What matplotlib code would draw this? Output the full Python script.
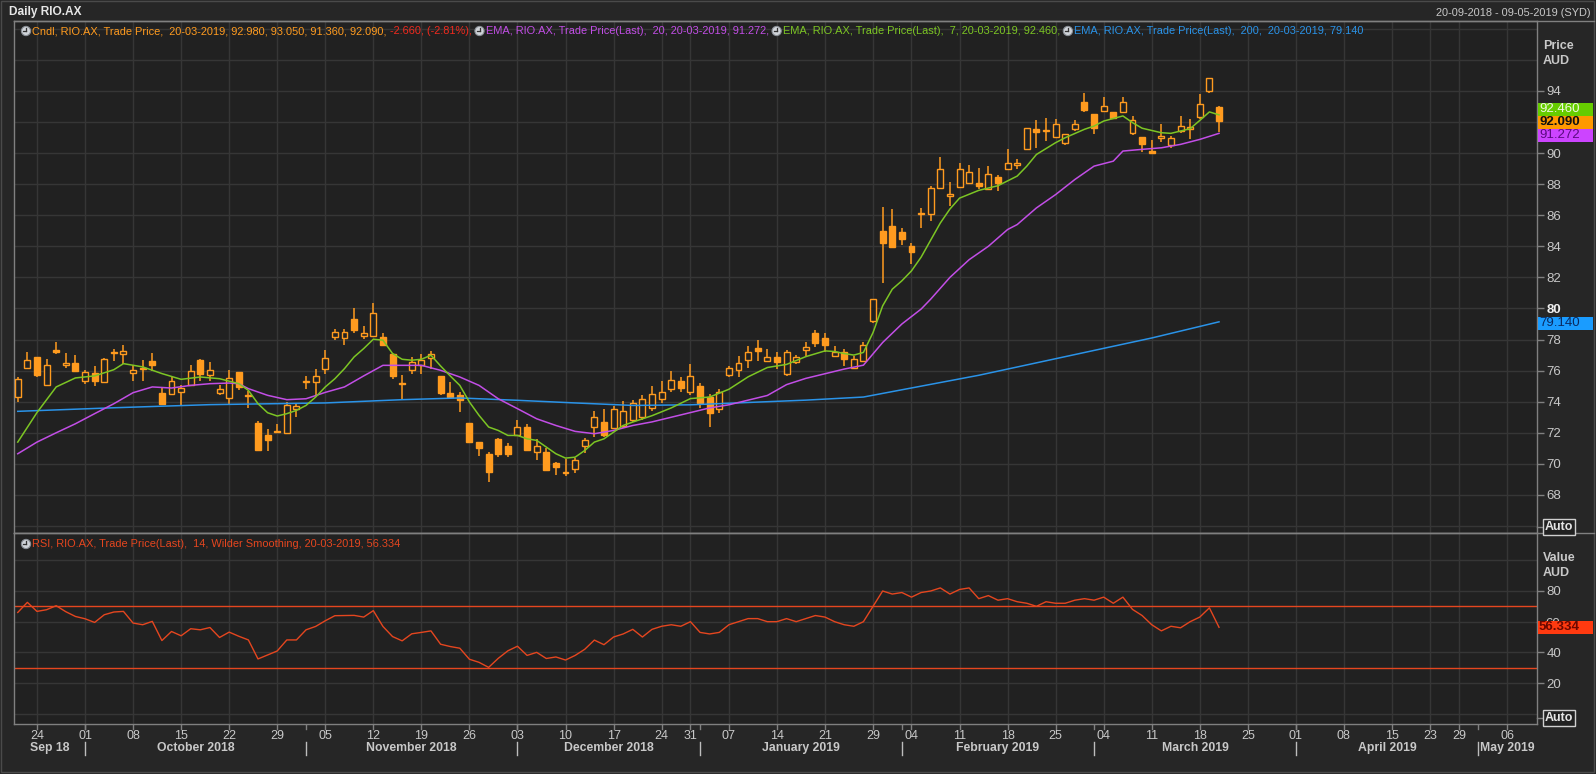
import numpy as np
import pandas as pd
import matplotlib
matplotlib.use("Agg")
import matplotlib.pyplot as plt
from matplotlib.patches import Rectangle, Circle

W, H = 1596, 774
FONT = ["Liberation Sans", "DejaVu Sans"]
plt.rcParams["font.family"] = FONT

FIG_BG = "#262626"
PANE_BG = "#212121"
GRID = "#363636"
SPINE = "#808080"
TXT = "#c8c8c8"
ORANGE = "#ff9b1f"
GREEN = "#7cc524"
PURPLE = "#c24ee6"
BLUE = "#2a93e8"
RSI_RED = "#e5461f"

# ---- data ----
opens = [
    74.30, 76.19, 76.88, 75.05, 77.30, 76.35, 76.52, 75.31, 75.83, 75.27,
    77.15, 77.05, 75.87, 76.10, 76.60, 74.56, 74.49, 74.62, 75.05, 76.67,
    75.74, 74.56, 74.24, 75.91, 74.40, 72.65, 71.87, 72.05, 72.00, 73.50,
    75.25, 75.27, 76.09, 78.17, 78.11, 79.29, 78.24, 78.22, 78.17, 77.10,
    75.20, 76.02, 76.34, 76.82, 75.66, 74.58, 74.41, 72.65, 71.40, 70.65,
    71.57, 71.18, 71.83, 72.37, 70.75, 70.75, 70.06, 69.50, 69.68, 71.14,
    72.37, 72.69, 72.30, 72.43, 72.80, 73.00, 73.60, 74.20, 74.80, 75.30,
    74.60, 75.00, 74.30, 73.50, 75.71, 76.05, 76.70, 77.45, 76.63, 76.89,
    75.77, 76.57, 77.34, 78.45, 78.13, 76.95, 77.17, 76.20, 76.63, 79.21,
    84.96, 85.28, 84.89, 84.03, 86.10, 86.11, 87.76, 87.23, 87.83, 88.09,
    88.09, 87.72, 88.47, 88.99, 89.25, 90.24, 91.53, 91.40, 91.05, 90.67,
    91.57, 93.31, 92.49, 92.71, 92.67, 92.65, 91.27, 91.03, 90.13, 90.99,
    90.52, 91.42, 91.53, 92.32, 94.00, 92.98]
closes = [
    75.44, 76.71, 75.74, 76.34, 77.20, 76.52, 75.96, 75.91, 75.31, 76.77,
    77.22, 77.29, 76.06, 76.15, 76.39, 73.87, 75.33, 74.88, 75.96, 75.76,
    76.04, 74.80, 75.53, 74.95, 74.35, 70.86, 71.51, 72.02, 73.81, 73.72,
    75.30, 75.66, 76.84, 78.49, 78.49, 78.60, 78.45, 79.74, 77.68, 75.66,
    75.16, 76.56, 76.71, 77.10, 74.58, 74.30, 74.13, 71.40, 71.01, 69.46,
    70.65, 70.65, 72.37, 70.86, 71.18, 69.63, 69.78, 69.40, 70.28, 71.51,
    73.01, 71.83, 73.55, 73.38, 73.91, 74.20, 74.50, 74.60, 75.40, 74.90,
    75.67, 73.90, 73.30, 74.60, 76.14, 76.52, 77.17, 77.27, 76.85, 76.57,
    77.17, 76.85, 77.55, 77.77, 77.64, 77.21, 76.74, 76.78, 77.64, 80.60,
    84.21, 83.97, 84.46, 83.65, 86.15, 87.76, 88.99, 87.38, 88.99, 88.80,
    87.87, 88.67, 88.09, 89.38, 89.38, 91.63, 91.35, 91.42, 91.85, 91.25,
    91.85, 92.77, 91.59, 93.03, 92.28, 93.31, 92.13, 90.56, 90.02, 91.10,
    90.95, 91.74, 91.70, 93.18, 94.80, 92.09]
highs = [
    75.59, 77.20, 76.88, 76.77, 77.85, 77.16, 77.03, 76.02, 76.30, 76.84,
    77.42, 77.68, 76.34, 76.67, 77.16, 74.90, 75.59, 75.05, 76.34, 76.73,
    76.56, 75.05, 76.02, 75.91, 74.67, 72.73, 72.22, 72.58, 73.98, 73.87,
    75.66, 76.09, 77.35, 78.65, 78.67, 80.00, 78.88, 80.32, 78.45, 77.10,
    75.70, 76.88, 77.10, 77.25, 75.66, 75.27, 74.62, 72.65, 71.40, 70.75,
    71.66, 71.35, 72.80, 72.58, 71.61, 71.01, 70.15, 70.32, 70.37, 71.66,
    73.38, 73.51, 73.72, 74.02, 74.09, 74.40, 75.00, 75.30, 76.00, 75.60,
    76.42, 75.20, 74.50, 74.80, 76.31, 76.95, 77.60, 77.98, 77.38, 77.17,
    77.34, 77.00, 77.81, 78.63, 78.41, 77.60, 77.38, 76.91, 77.81, 80.60,
    86.50, 86.39, 85.15, 84.21, 86.44, 87.91, 89.76, 88.13, 89.33, 89.23,
    89.05, 89.16, 88.56, 90.24, 89.63, 91.63, 92.13, 92.28, 92.22, 91.25,
    92.13, 93.89, 92.49, 93.63, 92.67, 93.63, 92.39, 91.03, 90.82, 91.89,
    91.10, 92.39, 92.17, 93.78, 94.80, 93.05]
lows = [
    73.98, 76.13, 75.59, 75.05, 77.10, 76.17, 75.96, 75.16, 75.01, 75.27,
    76.60, 76.45, 75.31, 75.31, 75.96, 73.81, 74.49, 73.72, 75.01, 75.31,
    75.31, 74.41, 73.87, 74.73, 73.59, 70.82, 70.80, 72.00, 72.00, 73.00,
    74.84, 74.30, 75.81, 77.96, 77.63, 78.45, 78.02, 78.22, 77.63, 75.44,
    74.19, 75.81, 75.81, 76.13, 74.41, 74.19, 73.33, 71.40, 70.49, 68.82,
    70.43, 70.47, 71.83, 70.86, 70.28, 69.51, 69.29, 69.20, 69.42, 70.71,
    71.72, 71.72, 72.30, 72.30, 72.69, 72.80, 73.40, 73.90, 74.60, 74.60,
    74.40, 73.60, 72.40, 73.30, 75.56, 75.56, 76.20, 76.63, 76.63, 76.09,
    75.67, 76.42, 76.95, 77.49, 77.17, 76.91, 76.31, 76.09, 76.63, 79.06,
    81.63, 83.97, 84.08, 82.85, 85.15, 85.61, 87.66, 86.58, 87.83, 88.04,
    87.66, 87.70, 87.55, 88.95, 88.95, 90.19, 90.30, 90.77, 91.05, 90.52,
    91.42, 92.65, 91.20, 92.65, 92.28, 92.65, 91.14, 90.06, 89.91, 90.73,
    90.34, 91.31, 90.88, 92.17, 93.89, 91.36]

# EMA lines, read at sample days (day index, value)
ema7_day = [0, 2, 4, 6, 8, 10, 11, 13, 15, 17, 19, 21, 23, 24, 25, 26, 27, 28, 29, 30,
            31, 32, 33, 34, 35, 36, 37, 38, 39, 40, 41, 42, 43, 44, 45, 46, 47, 48, 49, 50,
            51, 52, 53, 54, 55, 56, 57, 58, 59, 60, 61, 62, 63, 64, 66, 68, 70, 72, 74, 76,
            78, 80, 82, 84, 85, 86, 87, 88, 89, 90, 91, 92, 93, 94, 96, 97, 98, 100, 102, 104,
            105, 106, 108, 109, 111, 112, 113, 115, 116, 117, 119, 120, 121, 122, 123, 124, 125]
ema7_val = [71.4, 73.3, 74.95, 75.53, 75.66, 76.06, 76.45, 76.24, 75.81, 75.44, 75.59, 75.48,
            75.16, 74.73, 73.87, 73.29, 73.08, 73.23, 73.44, 73.76, 74.30, 74.95, 75.48, 76.13,
            76.88, 77.42, 78.02, 77.96, 77.10, 76.73, 76.67, 76.73, 76.99, 76.30, 75.66, 75.05,
            73.98, 73.12, 72.37, 72.15, 71.83, 71.83, 71.61, 71.51, 71.08, 70.65, 70.37, 70.43,
            70.86, 71.40, 71.61, 72.04, 72.47, 72.69, 73.1, 73.6, 74.2, 74.3, 74.8, 75.6, 76.2,
            76.4, 76.9, 77.27, 77.23, 77.10, 77.0, 77.17, 78.45, 80.17, 81.24, 81.78, 82.42,
            83.3, 85.5, 86.4, 87.1, 87.6, 87.9, 88.52, 89.16, 89.91, 90.67, 90.99, 91.53, 91.74,
            92.06, 92.39, 91.96, 91.6, 91.31, 91.27, 91.42, 91.57, 92.1, 92.65, 92.46]
ema20_day = [0, 2, 4, 6, 8, 10, 12, 14, 16, 18, 20, 22, 23, 24, 26, 28, 30, 32, 34, 36, 38,
             40, 42, 44, 46, 48, 50, 52, 54, 56, 58, 60, 62, 64, 66, 68, 70, 72, 74, 76, 78,
             80, 82, 84, 86, 88, 90, 92, 94, 95, 97, 99, 101, 103, 104, 106, 108, 110, 111,
             112, 114, 115, 117, 119, 121, 123, 125]
ema20_val = [70.65, 71.4, 72.0, 72.58, 73.23, 73.87, 74.58, 74.95, 74.88, 75.05, 75.16, 75.20,
             75.16, 74.84, 74.41, 74.13, 74.19, 74.6, 74.95, 75.66, 76.34, 76.34, 76.34, 76.02,
             75.59, 75.05, 74.19, 73.55, 72.90, 72.47, 72.09, 71.94, 72.15, 72.47, 72.7, 73.0,
             73.3, 73.6, 73.8, 74.1, 74.4, 75.1, 75.5, 75.8, 76.1, 76.35, 77.81, 79.0, 79.96,
             80.6, 82.0, 83.14, 84.0, 85.08, 85.4, 86.47, 87.33, 88.30, 88.73, 89.16, 89.48,
             90.13, 90.24, 90.34, 90.56, 90.88, 91.27]
ema200_day = [0, 10, 20, 32, 40, 46, 52, 58, 64, 70, 76, 82, 88, 94, 100, 106, 112, 118, 125]
ema200_val = [73.38, 73.61, 73.81, 73.92, 74.13, 74.24, 74.09, 73.92, 73.76, 73.80, 73.95,
              74.10, 74.30, 75.0, 75.7, 76.5, 77.3, 78.1, 79.14]

rsi = [66.0, 72.6, 66.7, 67.8, 70.4, 66.5, 63.4, 61.9, 59.5, 64.5,
       66.3, 66.7, 59.1, 58.0, 60.2, 47.7, 53.6, 50.8, 55.4, 54.7,
       56.2, 49.7, 53.2, 50.5, 48.1, 35.7, 38.3, 40.9, 48.1, 48.1,
       54.7, 56.9, 60.6, 63.9, 64.0, 64.1, 63.0, 67.2, 56.9, 50.3,
       47.5, 52.1, 53.0, 54.0, 45.3, 43.8, 42.7, 35.5, 33.5, 30.2,
       36.1, 41.0, 44.0, 38.0, 40.0, 36.0, 37.0, 35.0, 38.0, 42.0,
       48.0, 45.0, 50.0, 52.0, 55.0, 50.0, 55.0, 57.0, 58.0, 57.0,
       60.0, 53.0, 52.0, 53.0, 58.0, 60.0, 62.0, 62.0, 60.0, 60.0,
       62.0, 60.0, 62.0, 64.0, 63.0, 60.0, 58.0, 57.0, 60.0, 70.0,
       80.0, 78.0, 79.0, 76.0, 79.0, 80.0, 82.0, 78.0, 81.0, 82.0,
       75.0, 77.0, 74.0, 75.0, 73.0, 72.0, 70.0, 73.0, 72.0, 72.0,
       74.0, 75.0, 74.0, 76.0, 72.0, 76.0, 68.0, 64.0, 58.0, 54.0,
       57.0, 56.0, 60.0, 63.0, 69.0, 56.334]

# calendar: ASX trading days shown on the axis
holidays = ["2018-12-25", "2018-12-26", "2019-01-01", "2019-01-28",
            "2019-04-19", "2019-04-22", "2019-04-25"]
days = pd.bdate_range("2018-09-20", "2019-05-09", freq="C", holidays=holidays)
tick_dates = ["2018-09-24", "2018-10-01", "2018-10-08", "2018-10-15", "2018-10-22",
              "2018-10-29", "2018-11-05", "2018-11-12", "2018-11-19", "2018-11-26",
              "2018-12-03", "2018-12-10", "2018-12-17", "2018-12-24", "2018-12-31",
              "2019-01-07", "2019-01-14", "2019-01-21", "2019-01-29", "2019-02-04",
              "2019-02-11", "2019-02-18", "2019-02-25", "2019-03-04", "2019-03-11",
              "2019-03-18", "2019-03-25", "2019-04-01", "2019-04-08", "2019-04-15",
              "2019-04-23", "2019-04-29", "2019-05-06"]
month_names = ["Sep 18", "October 2018", "November 2018", "December 2018", "January 2019",
               "February 2019", "March 2019", "April 2019", "May 2019"]

pos = {d: i for i, d in enumerate(days)}
tick_idx = [pos[pd.Timestamp(d)] for d in tick_dates]
month_start = [i for i in range(1, len(days)) if days[i].month != days[i - 1].month]

XMIN, XMAX = -0.39, 158.09

fig = plt.figure(figsize=(W / 100, H / 100), dpi=100, facecolor=FIG_BG)


def px_rect(x0, y0, x1, y1):
    return [x0 / W, 1 - y1 / H, (x1 - x0) / W, (y1 - y0) / H]


ax = fig.add_axes(px_rect(14, 21, 1537, 533), facecolor=PANE_BG)
ax2 = fig.add_axes(px_rect(14, 533, 1537, 724), facecolor=PANE_BG)

for a in (ax, ax2):
    a.set_xlim(XMIN, XMAX)
    for s in a.spines.values():
        s.set_color(SPINE)
        s.set_linewidth(1)
    for t in tick_idx:
        a.axvline(t, color=GRID, lw=1, zorder=0)
    a.set_xticks([])
    a.yaxis.tick_right()
    a.tick_params(axis="y", colors=SPINE, labelcolor=TXT, length=5, width=1,
                  labelsize=9.5, pad=2)

# price pane (92 sits under the value tags)
ax.set_ylim(65.55, 98.5)
for g in range(66, 99, 2):
    ax.axhline(g, color=GRID, lw=1, zorder=0)
price_ticks = [t for t in range(68, 95, 2) if t != 92]
ax.set_yticks(price_ticks)
for lab in ax.get_yticklabels():
    if lab.get_text() == "80":
        lab.set_fontweight("bold")
        lab.set_color("#f0f0f0")

o = np.array(opens)
c = np.array(closes)
hi = np.array(highs)
lo = np.array(lows)
x = np.arange(len(o))
up = c >= o
ax.vlines(x, lo, hi, color=ORANGE, lw=1.1, zorder=3)
body_lo = np.minimum(o, c)
body_h = np.maximum(np.abs(c - o), 0.07)
ax.bar(x[up], body_h[up], bottom=body_lo[up], width=0.62, facecolor=PANE_BG,
       edgecolor=ORANGE, lw=1.0, zorder=4)
ax.bar(x[~up], body_h[~up], bottom=body_lo[~up], width=0.62, facecolor=ORANGE,
       edgecolor=ORANGE, lw=1.0, zorder=4)

ax.plot(ema200_day, ema200_val, color=BLUE, lw=1.1, zorder=5)
ax.plot(ema20_day, ema20_val, color=PURPLE, lw=1.1, zorder=5)
ax.plot(ema7_day, ema7_val, color=GREEN, lw=1.1, zorder=5)

# RSI pane
ax2.set_ylim(-6.7, 117.8)
for g in range(0, 101, 20):
    ax2.axhline(g, color=GRID, lw=1, zorder=0)
ax2.set_yticks([20, 40, 80])
ax2.axhline(70, color=RSI_RED, lw=1, zorder=2)
ax2.axhline(30, color=RSI_RED, lw=1, zorder=2)
ax2.plot(np.arange(len(rsi)), rsi, color=RSI_RED, lw=1, zorder=3)

# overlay in pixel coordinates for text and tags
ov = fig.add_axes([0, 0, 1, 1], zorder=10)
ov.set_xlim(0, W)
ov.set_ylim(H, 0)
ov.axis("off")
ov.patch.set_alpha(0)


def xpix(i):
    return 14 + (i - XMIN) / (XMAX - XMIN) * (1537 - 14)


ov.add_patch(Rectangle((1, 1), W - 3, H - 3, fill=False, ec="#4a4a4a", lw=1))
ov.plot([14, W - 2], [21, 21], color=SPINE, lw=1)
ov.plot([14, W - 2], [533, 533], color=SPINE, lw=1)

ov.text(9, 12, "Daily RIO.AX", color="#e6e6e6", fontsize=8.6, fontweight="bold",
        va="center", ha="left")
ov.text(1591, 13, "20-09-2018 - 09-05-2019 (SYD)", color=TXT, fontsize=7.9,
        va="center", ha="right")


def icon(cx, cy):
    ov.add_patch(Circle((cx, cy), 4.6, fc="#cfd3d8", ec="#8a8f96", lw=0.8))
    ov.plot([cx, cx], [cy, cy - 3.2], color="#333333", lw=0.9)
    ov.plot([cx, cx - 2.6], [cy, cy], color="#333333", lw=0.9)


renderer = fig.canvas.get_renderer()
LEG_FS = 7.95


def legend_line(y, parts):
    xc = 21
    for has_icon, s, col in parts:
        if has_icon:
            icon(xc + 5, y)
            xc += 11
        t = ov.text(xc, y, s, color=col, fontsize=LEG_FS, va="center", ha="left")
        xc = t.get_window_extent(renderer).x1


legend_line(31, [
    (True, "Cndl, RIO.AX, Trade Price,  20-03-2019, 92.980, 93.050, 91.360, 92.090, ", ORANGE),
    (False, "-2.660, (-2.81%), ", "#f02a1e"),
    (True, "EMA, RIO.AX, Trade Price(Last),  20, 20-03-2019, 91.272, ", PURPLE),
    (True, "EMA, RIO.AX, Trade Price(Last),  7, 20-03-2019, 92.460, ", GREEN),
    (True, "EMA, RIO.AX, Trade Price(Last),  200,  20-03-2019, 79.140", BLUE),
])
legend_line(544, [
    (True, "RSI, RIO.AX, Trade Price(Last),  14, Wilder Smoothing, 20-03-2019, 56.334", RSI_RED),
])

# right axis headers
for y0, words in ((46, ("Price", "AUD")), (558, ("Value", "AUD"))):
    ov.text(1543, y0, words[0], color=TXT, fontsize=9, fontweight="bold", va="center")
    ov.text(1543, y0 + 15, words[1], color=TXT, fontsize=9, fontweight="bold", va="center")

# "60" of the RSI axis, mostly hidden behind its value tag
ov.plot([1537, 1542], [622, 622], color=SPINE, lw=1)
ov.text(1545, 624, "60", color=TXT, fontsize=9.5, va="center", ha="left", zorder=2)

# value tags
tags = [
    (109, "92.460", "#66cc00", "#eef8e0", "normal"),
    (122, "92.090", "#ff9900", "#111111", "bold"),
    (135, "91.272", "#cc44ff", "#5a0a80", "normal"),
    (323, "79.140", "#1a9cff", "#0a2a60", "normal"),
    (627, "56.334", "#ff3a10", "#6a0800", "bold"),
]
for yc, s, bg, fg, wt in tags:
    ov.add_patch(Rectangle((1538, yc - 6.5), 55, 13, fc=bg, ec="none", zorder=3))
    ov.text(1539, yc, s, color=fg, fontsize=9.5, fontweight=wt, va="center", ha="left",
            zorder=4)

# Auto boxes
for yc in (527, 718):
    ov.plot([1537, 1542], [yc, yc], color=SPINE, lw=1)
    ov.text(1559, yc, "Auto", color="#e6e6e6", fontsize=9, fontweight="bold",
            va="center", ha="center",
            bbox=dict(boxstyle="square,pad=0.15", fc=PANE_BG, ec="#d0d0d0", lw=1))

# bottom date axis
for i, d in zip(tick_idx, tick_dates):
    xp = xpix(i)
    ov.plot([xp, xp], [725, 729], color=SPINE, lw=1)
    ov.text(xp, 736, d[-2:], color=TXT, fontsize=9, va="center", ha="center")
for i in month_start:
    xp = xpix(i)
    ov.plot([xp, xp], [725, 729], color=SPINE, lw=1)
    ov.plot([xp, xp], [742, 755], color="#bdbdbd", lw=1)
bounds = [XMIN] + month_start + [XMAX]
for k, name in enumerate(month_names):
    xc = (xpix(bounds[k]) + xpix(bounds[k + 1])) / 2
    ov.text(xc, 748, name, color=TXT, fontsize=8.8, fontweight="bold",
            va="center", ha="center")

fig.savefig("out.png", dpi=100, facecolor=FIG_BG)
